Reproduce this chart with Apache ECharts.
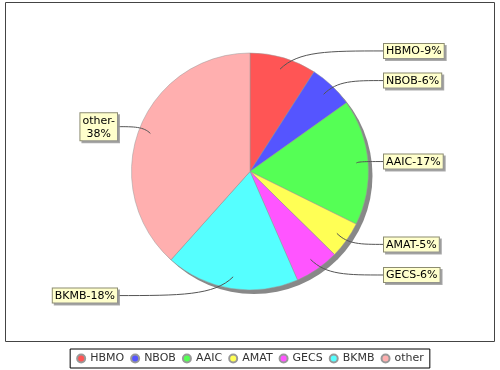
<!DOCTYPE html>
<html>
<head>
<meta charset="utf-8">
<script src="https://cdn.jsdelivr.net/npm/echarts@6/dist/echarts.min.js"></script>
<style>
html,body{margin:0;padding:0;background:#fff;}
#chart{width:500px;height:370px;}
</style>
</head>
<body>
<div id="chart"></div>
<script>
// Data
var categories = ['HBMO', 'NBOB', 'AAIC', 'AMAT', 'GECS', 'BKMB', 'other'];
var shares = [9, 6, 17, 5, 6, 18, 38];
var colors = ['#FF5555', '#5555FF', '#55FF55', '#FFFF55', '#FF55FF', '#55FFFF', '#FFAFAF'];
var wrappedLabels = ['other'];

var pieData = categories.map(function (c, i) {
  return { name: c, value: shares[i], itemStyle: { color: colors[i] } };
});
var labelData = categories.map(function (c, i) {
  return { name: c, value: shares[i] };
});

var cx = 250, cy = 171.5, R = 118.5;
var rightLabelX = 384, leftLabelX = 117;
var font = 'DejaVu Sans';

// Cubic link curve (JFreeChart style) from the in-slice anchor to the label edge
function linkCurve(p0, p3) {
  var dir = p3[0] > p0[0] ? 1 : -1;
  var dy = Math.abs(p3[1] - p0[1]);
  var p1 = [p0[0] + dir * dy, p3[1]];
  var p2 = [p1[0] + 0.35 * (p3[0] - p1[0]), p3[1]];
  var out = [];
  var n = 16;
  for (var i = 0; i <= n; i++) {
    var t = i / n, u = 1 - t;
    var a = u * u * u, b = 3 * u * u * t, c = 3 * u * t * t, d = t * t * t;
    out.push([a * p0[0] + b * p1[0] + c * p2[0] + d * p3[0],
              a * p0[1] + b * p1[1] + c * p2[1] + d * p3[1]]);
  }
  return out;
}

var chart = echarts.init(document.getElementById('chart'), null, { renderer: 'canvas' });
chart.setOption({
  backgroundColor: '#ffffff',
  animation: false,
  graphic: [{
    type: 'rect',
    shape: { x: 5.5, y: 2.5, width: 489, height: 339 },
    style: { fill: 'none', stroke: '#444444', lineWidth: 1 },
    silent: true,
    z: 0
  }],
  legend: {
    data: categories,
    bottom: 2,
    left: 'center',
    icon: 'circle',
    itemWidth: 8,
    itemHeight: 8,
    itemGap: 6,
    padding: [4, 6],
    borderColor: '#000000',
    borderWidth: 1,
    textStyle: { fontFamily: font, fontSize: 11, color: '#333333' }
  },
  series: [
    {
      name: 'shadow',
      type: 'pie',
      silent: true,
      center: [cx + 4, cy + 4],
      radius: R,
      label: { show: false },
      labelLine: { show: false },
      itemStyle: { color: '#888888' },
      data: [{ name: '_shadow', value: 1 }],
      z: 1
    },
    {
      name: 'main',
      type: 'pie',
      silent: true,
      center: [cx, cy],
      radius: R,
      startAngle: 90,
      clockwise: true,
      label: { show: false },
      labelLine: { show: false },
      itemStyle: { borderColor: '#999999', borderWidth: 0.5 },
      data: pieData,
      z: 2
    },
    {
      name: 'labels',
      type: 'pie',
      silent: true,
      center: [cx, cy],
      radius: R * 0.9,
      startAngle: 90,
      clockwise: true,
      itemStyle: { color: 'rgba(0,0,0,0)' },
      label: {
        show: true,
        position: 'outside',
        distanceToLabelLine: 0,
        fontFamily: font,
        fontSize: 11,
        lineHeight: 13,
        color: '#000000',
        backgroundColor: '#FFFFCC',
        borderColor: '#8c8c70',
        borderWidth: 1,
        padding: [1, 2, 0, 2],
        shadowColor: 'rgba(150,150,150,0.8)',
        shadowOffsetX: 2,
        shadowOffsetY: 2,
        shadowBlur: 0,
        rich: {
          w: { fontFamily: font, fontSize: 11, lineHeight: 13, color: '#000000', align: 'center' }
        },
        formatter: function (p) {
          if (wrappedLabels.indexOf(p.name) >= 0) {
            return '{w|' + p.name + '-}\n{w|' + p.value + '%}';
          }
          return p.name + '-' + p.value + '%';
        }
      },
      labelLine: {
        show: true,
        length: 19,
        length2: 12,
        smooth: false,
        lineStyle: { color: '#555555', width: 1 }
      },
      labelLayout: function (params) {
        var r = params.labelRect;
        var isLeft = r.x + r.width / 2 < cx;
        var pts = params.labelLinePoints;
        var x = isLeft ? leftLabelX : rightLabelX;
        var res = { x: x, align: isLeft ? 'right' : 'left' };
        if (pts) {
          res.labelLinePoints = linkCurve(pts[0], [x, pts[2][1]]);
        }
        return res;
      },
      data: labelData,
      z: 3
    }
  ]
});
</script>
</body>
</html>
